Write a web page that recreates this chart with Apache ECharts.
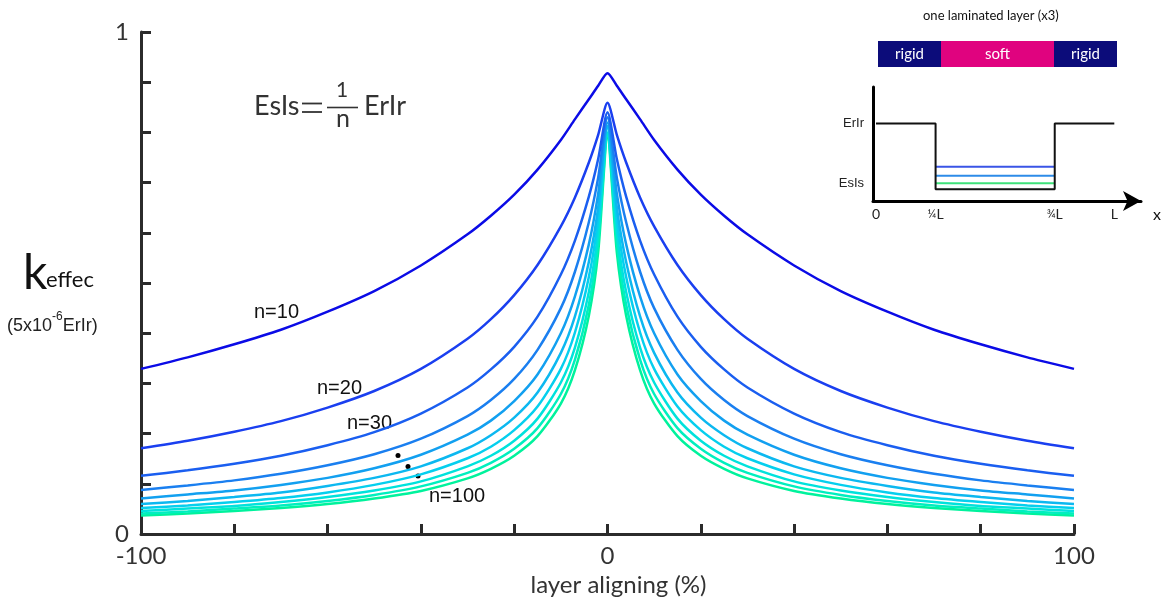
<!DOCTYPE html>
<html>
<head>
<meta charset="utf-8">
<script src="https://cdn.jsdelivr.net/npm/echarts@6/dist/echarts.min.js"></script>
<style>
html,body{margin:0;padding:0;background:#fff;}
#chart{width:1164px;height:602px;}
</style>
</head>
<body>
<div id="chart"></div>
<script>
// ---- data ----
const xValues = [-100,-90,-80,-70,-60,-50,-40,-30,-25,-20,-15,-10,-7,-4,-2,0,2,4,7,10,15,20,25,30,40,50,60,70,80,90,100];
const n10  = [0.329,0.352,0.378,0.407,0.443,0.484,0.535,0.597,0.634,0.676,0.726,0.785,0.826,0.866,0.893,0.918,0.893,0.866,0.826,0.785,0.726,0.676,0.634,0.597,0.535,0.484,0.443,0.407,0.378,0.352,0.329];
const n20  = [0.171,0.186,0.204,0.225,0.252,0.285,0.329,0.389,0.428,0.476,0.536,0.613,0.670,0.740,0.795,0.859,0.795,0.740,0.670,0.613,0.536,0.476,0.428,0.389,0.329,0.285,0.252,0.225,0.204,0.186,0.171];
const n30  = [0.116,0.127,0.140,0.156,0.177,0.203,0.240,0.292,0.328,0.373,0.433,0.517,0.584,0.672,0.747,0.840,0.747,0.672,0.584,0.517,0.433,0.373,0.328,0.292,0.240,0.203,0.177,0.156,0.140,0.127,0.116];
const n40  = [0.088,0.097,0.107,0.120,0.137,0.159,0.190,0.235,0.267,0.309,0.367,0.450,0.522,0.621,0.710,0.830,0.710,0.621,0.522,0.450,0.367,0.309,0.267,0.235,0.190,0.159,0.137,0.120,0.107,0.097,0.088];
const n50  = [0.071,0.079,0.087,0.098,0.112,0.131,0.158,0.198,0.226,0.265,0.318,0.400,0.473,0.577,0.678,0.820,0.678,0.577,0.473,0.400,0.318,0.265,0.226,0.198,0.158,0.131,0.112,0.098,0.087,0.079,0.071];
const n60  = [0.060,0.066,0.074,0.083,0.096,0.112,0.135,0.171,0.197,0.232,0.282,0.361,0.433,0.542,0.650,0.813,0.650,0.542,0.433,0.361,0.282,0.232,0.197,0.171,0.135,0.112,0.096,0.083,0.074,0.066,0.060];
const n70  = [0.052,0.057,0.064,0.072,0.083,0.098,0.119,0.151,0.174,0.207,0.254,0.329,0.401,0.512,0.627,0.810,0.627,0.512,0.401,0.329,0.254,0.207,0.174,0.151,0.119,0.098,0.083,0.072,0.064,0.057,0.052];
const n80  = [0.046,0.051,0.056,0.064,0.074,0.087,0.105,0.135,0.156,0.186,0.230,0.302,0.371,0.482,0.602,0.800,0.602,0.482,0.371,0.302,0.230,0.186,0.156,0.135,0.105,0.087,0.074,0.064,0.056,0.051,0.046];
const n90  = [0.041,0.045,0.051,0.057,0.066,0.078,0.095,0.122,0.142,0.170,0.211,0.279,0.347,0.457,0.581,0.795,0.581,0.457,0.347,0.279,0.211,0.170,0.142,0.122,0.095,0.078,0.066,0.057,0.051,0.045,0.041];
const n100 = [0.037,0.041,0.046,0.052,0.060,0.071,0.086,0.111,0.130,0.156,0.195,0.260,0.326,0.435,0.561,0.790,0.561,0.435,0.326,0.260,0.195,0.156,0.130,0.111,0.086,0.071,0.060,0.052,0.046,0.041,0.037];
const seriesNames = ['n=10','n=20','n=30','n=40','n=50','n=60','n=70','n=80','n=90','n=100'];
const seriesValues = [n10,n20,n30,n40,n50,n60,n70,n80,n90,n100];
const seriesColors = ['#0b0be6','#1a3ff0','#1a5ef0','#1a7ff0','#12a0f0','#0cb8f0','#05cfee','#00e2dc','#00efbf','#00f29c'];
const xTickLabels = [-100, 0, 100];
const yTickLabels = [0, 1];

// inset schematic (one laminated layer)
const insetX = [0, 0.25, 0.25, 0.75, 0.75, 1];
const insetY = [0.68, 0.68, 0.103, 0.103, 0.68, 0.68];
const insetLevels = [0.30, 0.222, 0.155];
const insetLevelColors = ['#3a55e6', '#2d8be8', '#3ee27a'];
const insetXTicks = [0, 0.25, 0.75, 1];
const insetXTickText = ['0', '{f|¼}L', '{f|¾}L', 'L'];
const insetYTicks = [0.155, 0.68];
const insetYTickText = ['EsIs', 'ErIr'];

const FONT = 'Lato';
const AXC = '#2b2b2b';

const series = seriesValues.map((vals, i) => ({
  name: seriesNames[i],
  type: 'line',
  xAxisIndex: 0, yAxisIndex: 0,
  data: xValues.map((x, j) => [x, vals[j]]),
  showSymbol: false,
  smooth: 0.25,
  lineStyle: { color: seriesColors[i], width: 2.5 },
  itemStyle: { color: seriesColors[i] },
  z: 20 - i,
  silent: true
}));

series.push({
  type: 'line', xAxisIndex: 1, yAxisIndex: 1,
  data: insetX.map((x, j) => [x, insetY[j]]),
  showSymbol: false,
  lineStyle: { color: '#111', width: 2 },
  silent: true, z: 5
});
insetLevels.forEach((lv, i) => {
  series.push({
    type: 'line', xAxisIndex: 1, yAxisIndex: 1,
    data: [[0.25, lv], [0.75, lv]],
    showSymbol: false,
    lineStyle: { color: insetLevelColors[i], width: 2 },
    silent: true, z: 4
  });
});

const chart = echarts.init(document.getElementById('chart'), null, { renderer: 'canvas' });
chart.setOption({
  animation: false,
  backgroundColor: '#fff',
  grid: [
    { left: 141, top: 32, right: 90, bottom: 63 },
    { left: 873, top: 87, width: 268, height: 114 }
  ],
  xAxis: [
    {
      type: 'value', gridIndex: 0, min: -100, max: 100, interval: 20,
      axisLine: { show: true, onZero: false, lineStyle: { color: AXC, width: 3 } },
      axisTick: { show: true, inside: true, length: 10, lineStyle: { color: AXC, width: 3 } },
      axisLabel: {
        show: true, margin: 10, fontSize: 24, fontFamily: FONT, color: '#333',
        formatter: v => xTickLabels.includes(v) ? String(v) : ''
      },
      splitLine: { show: false },
      name: 'layer aligning (%)', nameLocation: 'middle', nameGap: 30,
      nameTextStyle: { fontSize: 24, fontFamily: FONT, color: '#333', padding: [0, 0, 0, 22] }
    },
    {
      type: 'value', gridIndex: 1, min: -0.0126, max: 1.112,
      axisLine: { show: true, onZero: false, lineStyle: { color: '#000', width: 3 }, symbol: ['none', 'arrow'], symbolSize: [15, 18] },
      axisTick: { show: false },
      splitLine: { show: false },
      axisLabel: {
        show: true, customValues: insetXTicks, margin: 6, fontSize: 14, fontFamily: FONT, color: '#222',
        formatter: v => { const k = insetXTicks.indexOf(v); return k >= 0 ? insetXTickText[k] : ''; },
        rich: { f: { fontSize: 12, fontFamily: FONT, color: '#222' } }
      },
      name: 'x', nameLocation: 'end', nameGap: 12,
      nameTextStyle: { fontSize: 16, fontFamily: FONT, color: '#111', verticalAlign: 'top', padding: [6, 0, 0, 0] }
    }
  ],
  yAxis: [
    {
      type: 'value', gridIndex: 0, min: 0, max: 1, interval: 0.1,
      axisLine: { show: true, onZero: false, lineStyle: { color: AXC, width: 3 } },
      axisTick: { show: true, inside: true, length: 10, lineStyle: { color: AXC, width: 3 } },
      axisLabel: {
        show: true, margin: 12, fontSize: 24, fontFamily: FONT, color: '#333',
        formatter: v => yTickLabels.includes(v) ? String(v) : ''
      },
      splitLine: { show: false }
    },
    {
      type: 'value', gridIndex: 1, min: 0, max: 1,
      axisLine: { show: true, onZero: false, lineStyle: { color: '#000', width: 3 } },
      axisTick: { show: false },
      splitLine: { show: false },
      axisLabel: {
        show: true, customValues: insetYTicks, margin: 9, fontSize: 13, fontFamily: 'Liberation Sans', color: '#222',
        formatter: v => { const k = insetYTicks.indexOf(v); return k >= 0 ? insetYTickText[k] : ''; }
      }
    }
  ],
  series: series,
  graphic: [
    // y-axis title
    { type: 'text', left: 23, top: 250, style: { text: 'k', fontSize: 48, fontFamily: FONT, fill: '#111' } },
    { type: 'text', left: 46, top: 269, style: { text: 'effec', fontSize: 22, fontFamily: FONT, fill: '#111' } },
    { type: 'text', left: 7, top: 311, style: {
        text: '{a|(5x10}{s|-6}{a|ErIr)}',
        rich: {
          a: { fontSize: 18, fontFamily: 'Liberation Sans', fill: '#222', color: '#222', lineHeight: 24, verticalAlign: 'bottom' },
          s: { fontSize: 12, fontFamily: 'Liberation Sans', fill: '#222', color: '#222', lineHeight: 24, verticalAlign: 'top' }
        }
      } },
    // equation
    { type: 'text', left: 254, top: 93, style: { text: 'EsIs', fontSize: 27, fontFamily: FONT, fill: '#333' } },
    { type: 'line', shape: { x1: 302, y1: 103.5, x2: 322, y2: 103.5 }, style: { stroke: '#333', lineWidth: 1.8 } },
    { type: 'line', shape: { x1: 302, y1: 112, x2: 322, y2: 112 }, style: { stroke: '#333', lineWidth: 1.8 } },
    { type: 'text', left: 336, top: 80, style: { text: '1', fontSize: 21, fontFamily: FONT, fill: '#333' } },
    { type: 'line', shape: { x1: 327, y1: 107.5, x2: 358, y2: 107.5 }, style: { stroke: '#333', lineWidth: 1.6 } },
    { type: 'text', left: 336, top: 106, style: { text: 'n', fontSize: 25, fontFamily: FONT, fill: '#333' } },
    { type: 'text', left: 364, top: 93, style: { text: 'ErIr', fontSize: 27, fontFamily: FONT, fill: '#333' } },
    // curve labels
    { type: 'text', left: 254, top: 302, style: { text: 'n=10', fontSize: 20, fontFamily: 'Liberation Sans', fill: '#111' } },
    { type: 'text', left: 317, top: 378, style: { text: 'n=20', fontSize: 20, fontFamily: 'Liberation Sans', fill: '#111' } },
    { type: 'text', left: 347, top: 413, style: { text: 'n=30', fontSize: 20, fontFamily: 'Liberation Sans', fill: '#111' } },
    { type: 'circle', shape: { cx: 398, cy: 455.5, r: 2.5 }, style: { fill: '#000' } },
    { type: 'circle', shape: { cx: 408, cy: 466.5, r: 2.5 }, style: { fill: '#000' } },
    { type: 'circle', shape: { cx: 418, cy: 476, r: 2.5 }, style: { fill: '#000' } },
    { type: 'text', left: 429, top: 486, style: { text: 'n=100', fontSize: 20, fontFamily: 'Liberation Sans', fill: '#111' } },
    // inset header
    { type: 'text', left: 923, top: 9, style: { text: 'one laminated layer (x3)', fontSize: 13, fontFamily: FONT, fill: '#111' } },
    { type: 'rect', shape: { x: 878, y: 41, width: 63, height: 26 }, style: { fill: '#0c0c7a' } },
    { type: 'rect', shape: { x: 941, y: 41, width: 113, height: 26 }, style: { fill: '#e0037f' } },
    { type: 'rect', shape: { x: 1054, y: 41, width: 63, height: 26 }, style: { fill: '#0c0c7a' } },
    { type: 'text', x: 909.5, y: 54, style: { text: 'rigid', fontSize: 15, fontFamily: FONT, fill: '#fff', align: 'center', verticalAlign: 'middle' } },
    { type: 'text', x: 997.5, y: 54, style: { text: 'soft', fontSize: 15, fontFamily: FONT, fill: '#fff', align: 'center', verticalAlign: 'middle' } },
    { type: 'text', x: 1085.5, y: 54, style: { text: 'rigid', fontSize: 15, fontFamily: FONT, fill: '#fff', align: 'center', verticalAlign: 'middle' } }
  ]
});
</script>
</body>
</html>
